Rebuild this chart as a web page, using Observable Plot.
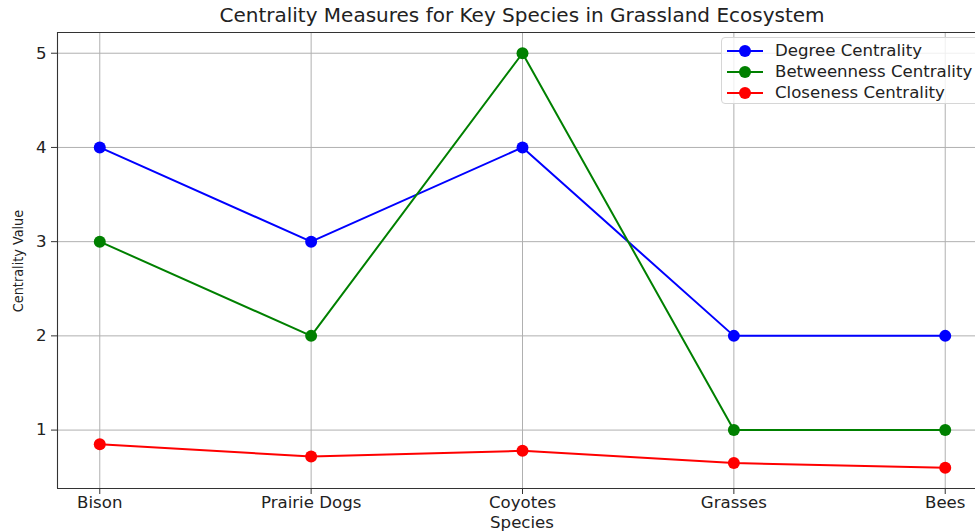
<!DOCTYPE html>
<html>
<head>
<meta charset="utf-8">
<script src="https://cdn.jsdelivr.net/npm/d3@7"></script>
<script src="https://cdn.jsdelivr.net/npm/@observablehq/plot@0.6"></script>
<style>
  html, body { margin: 0; padding: 0; background: #fff; overflow: hidden; }
  #wrap { position: relative; width: 975px; height: 531px; font-family: "DejaVu Sans", sans-serif; color: #222; }
  #title { position: absolute; top: 3px; left: 172px; width: 700px; text-align: center; font-size: 20px; white-space: nowrap; }
  #xlabel { position: absolute; top: 515px; left: 422px; width: 200px; text-align: center; font-size: 16.6px; line-height: 1; }
  #ylabel { position: absolute; left: 18px; top: 261px; transform: translate(-50%, -50%) rotate(-90deg); font-size: 14.3px; white-space: nowrap; font-family: "DejaVu Sans Condensed", "DejaVu Sans", sans-serif; }
  #legend { position: absolute; left: 721px; top: 37px; width: 280px; height: 65px; border: 1px solid #d6d6d6; border-radius: 4px; background: rgba(255,255,255,0.8); }
  .item { position: absolute; left: 5px; height: 21px; display: flex; align-items: center; font-size: 16.6px; white-space: nowrap; }
  .item svg { margin-right: 12px; }
  #chart svg { overflow: hidden; }
</style>
</head>
<body>
<div id="wrap">
  <div id="chart"></div>
  <div id="title"></div>
  <div id="xlabel"></div>
  <div id="ylabel"></div>
  <div id="legend"></div>
</div>
<script>
const species = ["Bison", "Prairie Dogs", "Coyotes", "Grasses", "Bees"];
const degree = [4, 3, 4, 2, 2];
const betweenness = [3, 2, 5, 1, 1];
const closeness = [0.85, 0.72, 0.78, 0.65, 0.6];
const seriesNames = ["Degree Centrality", "Betweenness Centrality", "Closeness Centrality"];
const yTicks = [1, 2, 3, 4, 5];
const titleText = "Centrality Measures for Key Species in Grassland Ecosystem";
const xLabelText = "Species";
const yLabelText = "Centrality Value";

const colors = ["#0000ff", "#008000", "#ff0000"];
const seriesValues = [degree, betweenness, closeness];

const rows = [];
seriesValues.forEach((vals, k) => {
  vals.forEach((v, i) => rows.push({ i, species: species[i], value: v, series: seriesNames[k] }));
});

const idx = species.map((_, i) => i);
const allVals = seriesValues.flat();
const ymin = d3.min(allVals), ymax = d3.max(allVals);
const ypad = (ymax - ymin) * 0.05;
const xpad = (species.length - 1) * 0.05;

const marks = [
  Plot.gridX(idx, { x: d => d, stroke: "#b0b0b0", strokeOpacity: 1, strokeWidth: 1 }),
  Plot.gridY(yTicks, { y: d => d, stroke: "#b0b0b0", strokeOpacity: 1, strokeWidth: 1 }),
  Plot.ruleX([-xpad], { stroke: "#333", strokeWidth: 1.1 }),
  Plot.ruleY([ymin - ypad, ymax + ypad], { stroke: "#333", strokeWidth: 1.1 }),
  Plot.axisX(idx, { x: d => d, tickFormat: i => species[i], tickSize: 6, tickPadding: 2, fontSize: 16.6, label: null, stroke: "#333" }),
  Plot.axisY(yTicks, { y: d => d, tickFormat: d3.format("d"), tickSize: 6, tickPadding: 5, fontSize: 16.6, label: null, stroke: "#333" })
];
seriesNames.forEach((name, k) => {
  const data = rows.filter(r => r.series === name);
  marks.push(Plot.line(data, { x: "i", y: "value", stroke: colors[k], strokeWidth: 2 }));
  marks.push(Plot.dot(data, { x: "i", y: "value", fill: colors[k], r: 6 }));
});

const chart = Plot.plot({
  width: 975,
  height: 531,
  marginLeft: 57,
  marginTop: 32,
  marginBottom: 43,
  marginRight: 0,
  style: { fontFamily: "DejaVu Sans, sans-serif", fontSize: "16.6px", color: "#222", background: "#fff" },
  x: { type: "linear", domain: [-xpad, species.length - 1 + xpad], range: [57, 987] },
  y: { domain: [ymin - ypad, ymax + ypad] },
  marks
});
document.getElementById("chart").appendChild(chart);

document.getElementById("title").textContent = titleText;
document.getElementById("xlabel").textContent = xLabelText;
document.getElementById("ylabel").textContent = yLabelText;

const legend = document.getElementById("legend");
seriesNames.forEach((name, k) => {
  const item = document.createElement("div");
  item.className = "item";
  item.style.top = (2 + k * 21) + "px";
  item.innerHTML = `<svg width="36" height="14"><line x1="0" x2="36" y1="7" y2="7" stroke="${colors[k]}" stroke-width="2"/><circle cx="18" cy="7" r="6" fill="${colors[k]}"/></svg>`;
  const span = document.createElement("span");
  span.textContent = name;
  item.appendChild(span);
  legend.appendChild(item);
});
</script>
</body>
</html>
